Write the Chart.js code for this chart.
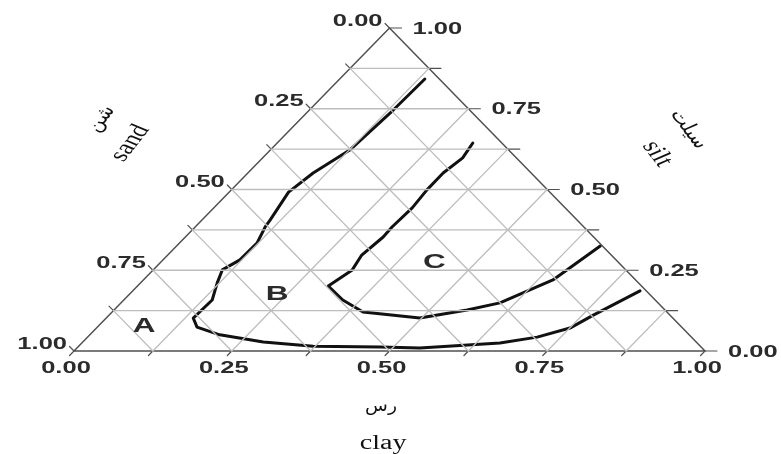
<!DOCTYPE html>
<html>
<head>
<meta charset="utf-8">
<script src="https://cdn.jsdelivr.net/npm/chart.js@4/dist/chart.umd.min.js"></script>
<style>
  body { margin: 0; background: #fff; }
</style>
</head>
<body>
<canvas id="ternary" width="781" height="454"></canvas>
<script>
// x = position along the clay base (0..1), y = height in the triangle (silt level)
const gridFractions = [0.125, 0.25, 0.375, 0.5, 0.625, 0.75, 0.875];
const tickFractions = [0, 0.125, 0.25, 0.375, 0.5, 0.625, 0.75, 0.875, 1];
const clayTickValues = [0, 0.25, 0.5, 0.75, 1];
const clayTickLabels = ['0.00', '0.25', '0.50', '0.75', '1.00'];
const sandTickValues = [1, 0.75, 0.5, 0.25, 0];
const sandTickLabels = ['0.00', '0.25', '0.50', '0.75', '1.00'];
const siltTickValues = [1, 0.75, 0.5, 0.25, 0];
const siltTickLabels = ['1.00', '0.75', '0.50', '0.25', '0.00'];

// boundary between zones A and B
const boundaryAB = [
  [0.556, 0.842], [0.506, 0.746], [0.437, 0.622], [0.379, 0.551], [0.340, 0.492],
  [0.311, 0.406], [0.303, 0.384], [0.290, 0.334], [0.263, 0.282], [0.235, 0.251],
  [0.227, 0.211], [0.219, 0.158], [0.189, 0.102], [0.195, 0.074], [0.231, 0.050],
  [0.300, 0.028], [0.379, 0.015], [0.485, 0.012], [0.548, 0.009], [0.675, 0.025],
  [0.734, 0.043], [0.786, 0.071], [0.823, 0.111], [0.897, 0.186]
];
// boundary between zones B and C
const boundaryBC = [
  [0.632, 0.644], [0.616, 0.598], [0.585, 0.551], [0.559, 0.498], [0.536, 0.443],
  [0.504, 0.384], [0.490, 0.353], [0.456, 0.297], [0.441, 0.251], [0.403, 0.201],
  [0.426, 0.158], [0.458, 0.121], [0.548, 0.102], [0.623, 0.127], [0.675, 0.149],
  [0.759, 0.220], [0.834, 0.325]
];

const zoneNames = ['A', 'B', 'C'];
const zoneX = [0.111, 0.322, 0.571];
const zoneY = [0.077, 0.176, 0.276];

const STRETCH = 1.5;
const tickLen = 0.019;
const GRID = '#bdbdbd';
const EDGE = '#505050';

const toPts = (arr) => arr.map((p) => ({ x: p[0], y: p[1] }));

const datasets = [];
function addLine(points, color, width) {
  datasets.push({
    data: points,
    showLine: true,
    borderColor: color,
    borderWidth: width,
    pointRadius: 0,
    tension: 0,
    clip: false,
    borderCapStyle: 'round',
    borderJoinStyle: 'round',
  });
}

gridFractions.forEach((f) => {
  addLine([{ x: f / 2, y: f }, { x: 1 - f / 2, y: f }], GRID, 1.3);
  addLine([{ x: f, y: 0 }, { x: f + (1 - f) / 2, y: 1 - f }], GRID, 1.3);
  addLine([{ x: f, y: 0 }, { x: f / 2, y: f }], GRID, 1.3);
});

tickFractions.forEach((f) => {
  // silt ticks (right edge)
  addLine([{ x: 1 - f / 2, y: f }, { x: 1 - f / 2 + tickLen, y: f }], EDGE, 1.2);
  // clay ticks (base)
  addLine([{ x: f, y: 0 }, { x: f - 0.007, y: -0.014 }], EDGE, 1.2);
  // sand ticks (left edge)
  addLine([{ x: f / 2, y: f }, { x: f / 2 - 0.007, y: f + 0.014 }], EDGE, 1.2);
});

addLine([{ x: 0, y: 0 }, { x: 1, y: 0 }, { x: 0.5, y: 1 }, { x: 0, y: 0 }], EDGE, 1.5);
addLine(toPts(boundaryAB), '#111', 3);
addLine(toPts(boundaryBC), '#111', 3);

function stretchedText(ctx, text, x, y, font, angle, align, color, stretch) {
  ctx.save();
  ctx.translate(x, y);
  ctx.scale(stretch || STRETCH, 1);
  ctx.rotate(angle);
  ctx.font = font;
  ctx.fillStyle = color;
  ctx.textAlign = align;
  ctx.textBaseline = 'middle';
  ctx.fillText(text, 0, 0);
  ctx.restore();
}

const labelPlugin = {
  id: 'ternaryLabels',
  afterDatasetsDraw(chart) {
    const { ctx } = chart;
    const sx = chart.scales.x;
    const sy = chart.scales.y;
    const px = (v) => sx.getPixelForValue(v);
    const py = (v) => sy.getPixelForValue(v);
    const tickFont = 'bold 17px "Liberation Sans", Arial, sans-serif';
    const ink = '#2b2b2b';

    clayTickValues.forEach((v, i) => {
      stretchedText(ctx, clayTickLabels[i], px(v) - 8, py(0) + 17, tickFont, 0, 'center', ink);
    });
    sandTickValues.forEach((h, i) => {
      stretchedText(ctx, sandTickLabels[i], px(h / 2) - 7, py(h) - 7, tickFont, 0, 'right', ink);
    });
    siltTickValues.forEach((h, i) => {
      stretchedText(ctx, siltTickLabels[i], px(1 - h / 2) + 23, py(h) + 1, tickFont, 0, 'left', ink);
    });

    zoneNames.forEach((z, i) => {
      stretchedText(ctx, z, px(zoneX[i]), py(zoneY[i]), 'bold 21px "Liberation Sans", Arial, sans-serif', 0, 'center', ink);
    });

    const titleFont = '21px "Liberation Serif", "Times New Roman", "DejaVu Sans", serif';
    const arFont = '17px "DejaVu Sans", "Noto Sans", serif';
    const up = -Math.PI / 3;
    const down = Math.PI / 3;
    stretchedText(ctx, 'sand', px(0.089), py(0.644), titleFont, up, 'center', '#111', 1.35);
    stretchedText(ctx, 'شن', px(0.043), py(0.718), arFont, up, 'center', '#111', 1.3);
    stretchedText(ctx, 'silt', px(0.924), py(0.61), titleFont, down, 'center', '#111', 1.35);
    stretchedText(ctx, 'سيلت', px(0.974), py(0.686), arFont, down, 'center', '#111', 1.3);
    stretchedText(ctx, 'رس', px(0.4865), py(-0.173), arFont, 0, 'center', '#111', 1.1);
    stretchedText(ctx, 'clay', px(0.49), py(-0.288), '20px "Liberation Serif", "Times New Roman", serif', 0, 'center', '#111', 1.4);
  },
};

const chart = new Chart(document.getElementById('ternary').getContext('2d'), {
  type: 'scatter',
  data: { datasets },
  options: {
    responsive: false,
    animation: false,
    layout: { padding: { left: 74, right: 76, top: 28, bottom: 103 } },
    scales: {
      x: { type: 'linear', min: 0, max: 1, display: false },
      y: { type: 'linear', min: 0, max: 1, display: false },
    },
    plugins: {
      legend: { display: false },
      tooltip: { enabled: false },
    },
  },
  plugins: [labelPlugin],
});
</script>
</body>
</html>
